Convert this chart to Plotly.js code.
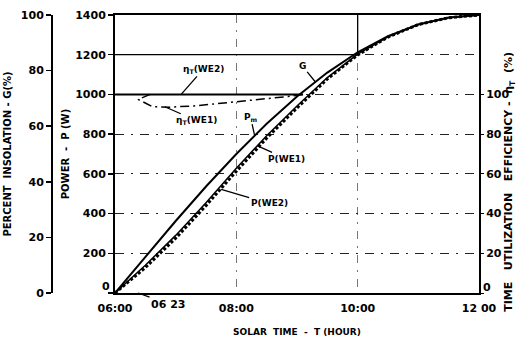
<!DOCTYPE html>
<html>
<head>
<meta charset="utf-8">
<script src="https://cdn.plot.ly/plotly-3.0.1.min.js"></script>
<style>html,body{margin:0;padding:0;background:#fff;}#chart{width:519px;height:337px;}</style>
</head>
<body>
<div id="chart"></div>
<script>
// ---- data ----
const timeHours = [6, 6.5, 7, 7.5, 8, 8.5, 9, 9.5, 10, 10.5, 11, 11.5, 12];
const insolationG = [0, 13.1, 25.9, 38.3, 50.0, 60.9, 70.7, 79.3, 86.6, 92.4, 96.6, 99.1, 100];

const powerTimes = [6, 6.5, 7, 7.5, 8, 8.5, 9, 9.5, 10, 10.5, 11, 11.5, 12];
const powerWE1 = [0, 140, 290, 455, 628, 792, 942, 1085, 1203, 1290, 1352, 1386, 1400];
const powerWE2 = [0, 128, 276, 440, 613, 780, 932, 1078, 1199, 1289, 1352, 1386, 1400];

const etaWE1Times = [6.58, 6.38, 6.62, 6.9, 7.3, 7.85, 8.27, 8.6, 8.9, 9.1];
const etaWE1 = [100, 97.5, 93.8, 93.6, 94.2, 95.8, 97.2, 98.2, 99.1, 100];
const etaWE2Times = [6, 9.1];
const etaWE2 = [100, 100];

const xTickVals = [6, 8, 10, 12];
const xTickText = ['06:00', '08:00', '10:00', '12 00'];
const powerTicks = [0, 200, 400, 600, 800, 1000, 1200, 1400];
const powerTickText = ['', '200', '400', '600', '800', '1000', '1200', '1400'];
const etaTicks = [0, 20, 40, 60, 80, 100];
const etaTickText = ['', '20', '40', '60', '80', '100'];
const gTicks = [0, 20, 40, 60, 80, 100];

const F = 'DejaVu Sans';
const tickFont = {family: F, size: 11, weight: 'bold', color: '#000'};
const labFont = {family: F, size: 9, weight: 'bold', color: '#000'};
const titleFont = {family: F, size: 10, weight: 'bold', color: '#000'};

const traces = [
  {x: timeHours, y: insolationG, yaxis: 'y3', mode: 'lines', line: {color: '#000', width: 2}, name: 'G'},
  {x: powerTimes, y: powerWE1, yaxis: 'y', mode: 'lines', line: {color: '#000', width: 1.5}, name: 'P(WE1)'},
  {x: powerTimes, y: powerWE2, yaxis: 'y', mode: 'lines', line: {color: '#000', width: 3, dash: '3px,2px'}, name: 'P(WE2)'},
  {x: etaWE1Times, y: etaWE1, yaxis: 'y2', mode: 'lines', line: {color: '#000', width: 1.5, dash: '9px,4px,2px,4px'}, name: 'ηT(WE1)'},
  {x: etaWE2Times, y: etaWE2, yaxis: 'y2', mode: 'lines', line: {color: '#000', width: 2}, name: 'ηT(WE2)'}
];

const ann = (x, y, yref, text, ax, ay) => ({
  x, y, xref: 'x', yref, text, showarrow: true, arrowhead: 0, arrowwidth: 1.3,
  arrowcolor: '#000', ax, ay, font: labFont, standoff: 0
});

const layout = {
  width: 519, height: 337,
  margin: {l: 10, r: 40, t: 15, b: 44},
  paper_bgcolor: '#fff', plot_bgcolor: '#fff',
  showlegend: false,
  font: tickFont,
  xaxis: {
    domain: [0.2239, 1], range: [6, 12],
    tickvals: xTickVals, ticktext: xTickText, ticks: '', ticklabelstandoff: 4,
    showline: true, linecolor: '#000', linewidth: 2, mirror: true,
    showgrid: true, gridcolor: '#777', gridwidth: 1, griddash: '8px,7px,2px,7px',
    zeroline: false, tickfont: tickFont,
    title: {text: 'SOLAR  TIME  -  T (HOUR)', font: labFont, standoff: 18}
  },
  yaxis: {
    range: [0, 1400], tickvals: powerTicks, ticktext: powerTickText,
    ticks: 'outside', ticklen: 5, tickwidth: 1.5, tickcolor: '#000',
    showline: true, linecolor: '#000', linewidth: 2,
    showgrid: true, gridcolor: '#222', gridwidth: 1, griddash: '9px,7px,2px,7px',
    zeroline: false, tickfont: tickFont,
    title: {text: 'POWER  -  P (W)', font: titleFont, standoff: 4}
  },
  yaxis2: {
    overlaying: 'y', side: 'right', anchor: 'x', range: [0, 140],
    tickvals: etaTicks, ticktext: etaTickText, ticks: 'outside', ticklen: 3, tickcolor: '#000',
    showline: true, linecolor: '#000', linewidth: 2, showgrid: false, zeroline: false,
    tickfont: tickFont
  },
  yaxis3: {
    overlaying: 'y', anchor: 'free', position: 0.0896, side: 'left', range: [0, 100],
    tickvals: gTicks, ticks: 'outside', ticklen: 5, tickwidth: 1.5, tickcolor: '#000',
    showline: true, linecolor: '#000', linewidth: 2, showgrid: false, zeroline: false,
    tickfont: tickFont,
    title: {text: 'PERCENT  INSOLATION - G(%)', font: titleFont, standoff: 6}
  },
  shapes: [
    {type: 'line', xref: 'x', yref: 'y', x0: 6, x1: 10, y0: 1200, y1: 1200, line: {color: '#000', width: 1.3}},
    {type: 'line', xref: 'x', yref: 'y', x0: 10, x1: 10, y0: 1200, y1: 1400, line: {color: '#000', width: 1.3}}
  ],
  annotations: [
    ann(7.09, 100, 'y2', 'η<sub>T</sub>(WE2)', 22, -25),
    ann(6.82, 93.8, 'y2', 'η<sub>T</sub>(WE1)', 32, 14),
    ann(9.3, 76, 'y3', 'G', -13, -16),
    ann(8.3, 56.8, 'y3', 'P<sub>m</sub>', -4, -18),
    ann(8.35, 741, 'y', 'P(WE1)', 29, 13),
    ann(7.75, 522, 'y', 'P(WE2)', 48, 14),
    Object.assign(ann(6.38, 0, 'y', '06 23', 30, 11), {font: tickFont}),
    {x: 6, y: 0, xref: 'x', yref: 'y', text: '0', showarrow: false, font: tickFont,
     xanchor: 'right', yanchor: 'middle', xshift: -3, yshift: 7},
    {x: 12, y: 0, xref: 'x', yref: 'y', text: '0', showarrow: false, font: tickFont,
     xanchor: 'left', yanchor: 'middle', xshift: 2, yshift: 6},
    {x: 1.064, y: 0.40, xref: 'paper', yref: 'paper', xanchor: 'center', yanchor: 'middle',
     textangle: -90, showarrow: false,
     text: 'TIME   UTILIZATION   EFFICIENCY -  η<sub>T</sub>  (%)',
     font: {family: F, size: 11, weight: 'bold', color: '#000'}}
  ]
};

Plotly.newPlot('chart', traces, layout, {displayModeBar: false, staticPlot: true});
</script>
</body>
</html>
